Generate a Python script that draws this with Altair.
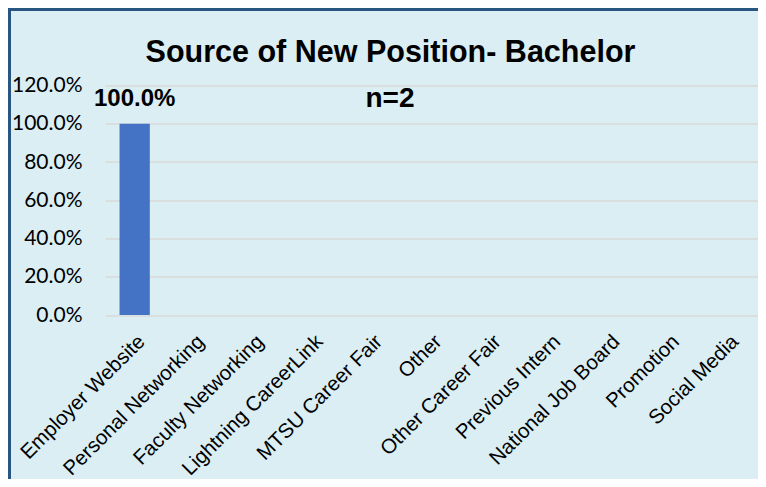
import altair as alt
import pandas as pd

categories = ["Employer Website", "Personal Networking", "Faculty Networking",
              "Lightning CareerLink", "MTSU Career Fair", "Other",
              "Other Career Fair", "Previous Intern", "National Job Board",
              "Promotion", "Social Media"]
shares = [1.0, 0, 0, 0, 0, 0, 0, 0, 0, 0, 0]
y_ticks = [0, 0.2, 0.4, 0.6, 0.8, 1.0, 1.2]
title_text = ["Source of New Position- Bachelor"]
subtitle_text = ["n=2"]

df = pd.DataFrame({"source": categories, "share": shares})

W = 653
H = 229.5
BG = "#DAEEF3"
BORDER = "#285582"

x_enc = alt.X("source:N", sort=categories, title=None,
              scale=alt.Scale(paddingInner=0.49, paddingOuter=0.245),
              axis=alt.Axis(labelAngle=-45, labelFont="Liberation Sans",
                            labelFontSize=20.5, labelColor="#000000",
                            labelPadding=16, ticks=False, domain=False,
                            labelLimit=300, grid=False))
y_enc = alt.Y("share:Q", title=None,
              scale=alt.Scale(domain=[0, 1.2], nice=False),
              axis=alt.Axis(values=y_ticks, format=".1%", grid=True,
                            gridColor="#D9D9D9", gridWidth=1.5, ticks=False,
                            domain=False, labelFont="Lato", labelFontSize=21,
                            labelPadding=23, labelColor="#000000"))

base = alt.Chart(df).encode(x=x_enc, y=y_enc)
bars = base.mark_bar(color="#4472C4")
labels = base.transform_filter("datum.share > 0").mark_text(
    dy=-18, baseline="alphabetic", fontWeight="bold",
    font="Liberation Sans", fontSize=24,
    color="#000000"
).encode(text=alt.Text("share:Q", format=".1%"))

title = alt.Chart(pd.DataFrame({"t": title_text})).mark_text(
    font="Liberation Sans", fontWeight="bold", fontSize=30.5,
    baseline="alphabetic", align="center", color="#000000"
).encode(x=alt.value(285.5), y=alt.value(-23.5), text="t:N")

subtitle = alt.Chart(pd.DataFrame({"t": subtitle_text})).mark_text(
    font="Liberation Sans", fontWeight="bold", fontSize=28,
    baseline="alphabetic", align="center", color="#000000"
).encode(x=alt.value(285), y=alt.value(21.5), text="t:N")

frame = pd.DataFrame({"d": [0]})
border = alt.Chart(frame).mark_rect(
    fill=None, fillOpacity=0, stroke=BORDER, strokeWidth=3
).encode(x=alt.value(-95.5), x2=alt.value(W + 30),
         y=alt.value(-76), y2=alt.value(H + 200))

chart = alt.layer(bars, labels, title, subtitle, border).properties(
    width=W, height=H,
    padding={"left": 97, "top": 77.5, "right": 0, "bottom": 164},
    autosize=alt.AutoSizeParams(type="none"),
    background=BG,
).configure_view(stroke=None)

chart.save("out.html", embed_options={"renderer": "svg", "actions": False})
